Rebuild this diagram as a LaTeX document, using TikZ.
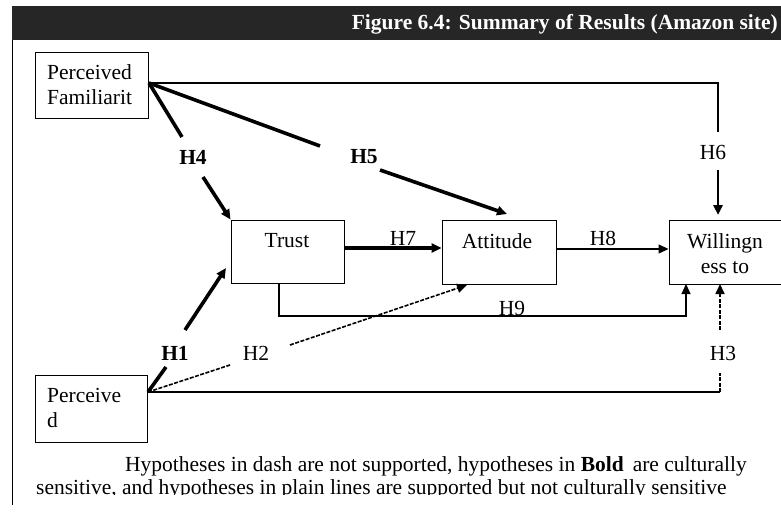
\documentclass[tikz,border=0pt]{standalone}
\usepackage{fontspec}
\setmainfont{Liberation Serif}
\usetikzlibrary{arrows.meta}
\begin{document}
\begin{tikzpicture}[x=1pt,y=-1pt,
  every node/.style={font=\fontsize{21.5}{25}\selectfont, inner sep=0pt},
  construct/.style={draw, line width=0.9pt, fill=white},
  boldlbl/.style={font=\fontsize{21.5}{25}\selectfont\bfseries},
  tip/.style={-{Triangle[length=10pt,width=9pt]}},
  cultural/.style={line width=3.6pt},
  plain/.style={line width=1.1pt},
  unsupported/.style={line width=1.6pt, dash pattern=on 4pt off 1.5pt},
]
\useasboundingbox (0,0) rectangle (781,511);

% header band and frame
\fill[black!85] (12,6) rectangle (781,40);
\node[anchor=east, text=white, font=\fontsize{21.5}{24}\selectfont\bfseries] (title) at (778,24)
  {Figure 6.4: Summary of Results (Amazon site)};
\draw[line width=1pt] (12,40) -- (12,505);

% constructs
\node[construct, minimum width=113pt, minimum height=66pt] (fam) at (91.5,85) {};
\node[anchor=west, align=left] (famtxt) at (47,85) {Perceived\\Familiarit};
\node[construct, minimum width=113pt, minimum height=63pt] (trust) at (287.5,251.5) {};
\node (trusttxt) at (287,241) {Trust};
\node[construct, minimum width=114pt, minimum height=64pt] (att) at (499,252) {};
\node (atttxt) at (497,241) {Attitude};
\node[construct, minimum width=124pt, minimum height=64pt] (will) at (731,252) {};
\node[align=center] (willtxt) at (725,254) {Willingn\\ess to};
\node[construct, minimum width=112pt, minimum height=67pt] (usf) at (91,408.5) {};
\node[anchor=west, align=left] (usftxt) at (47,408) {Perceive\\d};

% corner points of the sources
\coordinate (famc) at (149,83);
\coordinate (usfc) at (148,392);

% hypothesis labels
\node[boldlbl] (h4) at (193,157) {H4};
\node[boldlbl] (h5) at (364,157) {H5};
\node (h6) at (713,152) {H6};
\node (h7) at (403,238) {H7};
\node (h8) at (603,238) {H8};
\node (h9) at (512,308) {H9};
\node[boldlbl] (h1) at (175,353) {H1};
\node (h2) at (256,353) {H2};
\node (h3) at (723,353) {H3};

% H4: familiarity -> trust
\draw[cultural] (famc) -- (182,137);
\draw[cultural, tip] (203,177) -- (trust.north west);
% H5: familiarity -> attitude
\draw[cultural] (famc) -- (320,146);
\draw[cultural, tip] (380,170) -- (507,214);
% H6: familiarity -> willingness
\draw[plain] (famc) -- (718,83) -- (718,132);
\draw[line width=2.6pt, tip] (718,170) -- (718,215);
% H7, H8
\draw[cultural, tip] (trust.east |- 0,248) -- (att.west |- 0,248);
\draw[plain, tip] (att.east |- 0,249) -- (will.west |- 0,249);
% H9: trust -> willingness
\draw[plain, tip] (trust.south -| 279,0) -- (279,316) -- (686,316) -- (686,284);
% H1: usefulness -> trust
\draw[cultural] (usfc) -- (166,367);
\draw[cultural, tip] (185,330) -- (226,268);
% H2: usefulness -> attitude
\draw[unsupported] (usfc) -- (230,365);
\draw[unsupported, tip] (290,345) -- (467,285);
% H3: usefulness -> willingness
\draw[line width=2.6pt] (usfc) -- (720,392);
\draw[unsupported] (720,392) -- (720,373);
\draw[unsupported, tip] (720,330) -- (720,284);

% note
\node[anchor=west] (note1) at (125,466)
  {Hypotheses in dash are not supported, hypotheses in \textbf{Bold}\, are culturally};
\begin{scope}
  \clip (12,478) rectangle (781,494);
  \node[anchor=west] (note2) at (36,489)
    {sensitive, and hypotheses in plain lines are supported but not culturally sensitive};
\end{scope}
\end{tikzpicture}
\end{document}
